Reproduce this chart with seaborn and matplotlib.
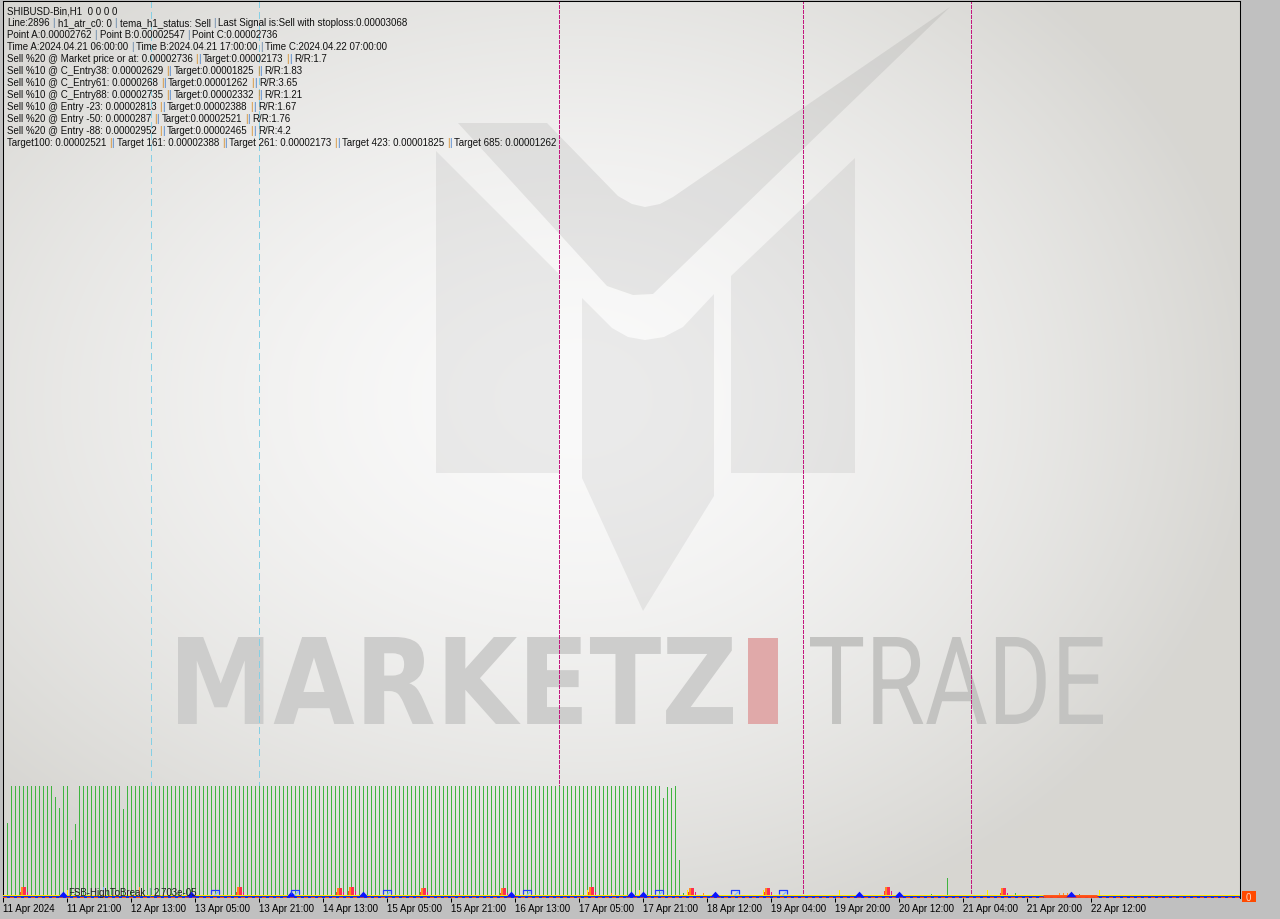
import re

import matplotlib

matplotlib.use("Agg")
import matplotlib.pyplot as plt
import numpy as np
import seaborn as sns
from matplotlib.font_manager import FontProperties
from matplotlib.patches import PathPatch, Polygon, Rectangle
from matplotlib.path import Path
from matplotlib.textpath import TextPath
from matplotlib.transforms import Affine2D

# x is the hourly bar number, bar 0 = 11 Apr 2024 05:00
tick_bars = [0, 16, 32, 48, 64, 80, 96, 112, 128, 144, 160, 176, 192, 208, 224, 240, 256, 272]
tick_labels = [
    "11 Apr 2024", "11 Apr 21:00", "12 Apr 13:00", "13 Apr 05:00", "13 Apr 21:00",
    "14 Apr 13:00", "15 Apr 05:00", "15 Apr 21:00", "16 Apr 13:00", "17 Apr 05:00",
    "17 Apr 21:00", "18 Apr 12:00", "19 Apr 04:00", "19 Apr 20:00", "20 Apr 12:00",
    "21 Apr 04:00", "21 Apr 20:00", "22 Apr 12:00",
]

# green histogram (height in screen pixels above the zero line)
green_bars = list(range(171)) + [232, 236, 253, 269]
green_values = [
    67, 73, 110, 110, 110, 110, 110, 110, 110, 110,
    110, 110, 110, 99, 88, 110, 110, 56, 72, 110,
    110, 110, 110, 110, 110, 110, 110, 110, 110, 110,
    87, 110, 110, 110, 110, 110, 110, 110, 110, 110,
    110, 110, 110, 110, 110, 110, 110, 110, 110, 110,
    110, 110, 110, 110, 110, 110, 110, 110, 110, 110,
    110, 110, 110, 110, 110, 110, 110, 110, 110, 110,
    110, 110, 110, 110, 110, 110, 110, 110, 110, 110,
    110, 110, 110, 110, 110, 110, 110, 110, 110, 110,
    110, 110, 110, 110, 110, 110, 110, 110, 110, 110,
    110, 110, 110, 110, 110, 110, 110, 110, 110, 110,
    110, 110, 110, 110, 110, 110, 110, 110, 110, 110,
    110, 110, 110, 110, 110, 110, 110, 110, 110, 110,
    110, 110, 110, 110, 110, 110, 110, 110, 110, 110,
    110, 110, 110, 110, 110, 110, 110, 110, 110, 110,
    110, 110, 110, 110, 110, 110, 110, 110, 110, 110,
    110, 110, 110, 110, 110, 98, 109, 108, 110, 36,
    3,
    2, 18, 3, 2,
]

# red / orange signal clusters
cluster_bars = [5, 59, 84, 87, 105, 125, 147, 172, 191, 221, 250]
cluster_peak = [8, 8, 7, 8, 7, 7, 8, 7, 7, 8, 7]
cluster_side = [3, 3, 3, 4, 3, 2, 3, 3, 3, 4, 2]

minor_bars = [16, 25, 34, 114, 146, 152, 159, 171, 175, 190, 209, 246, 274, 264, 265, 266]
minor_values = [5, 8, 8, 2, 5, 2, 5, 5, 2, 5, 5, 5, 5, 2, 2, 2]
minor_kind = ["yellow", "cyan", "orange", "red", "yellow", "orange", "yellow", "yellow",
              "orange", "yellow", "yellow", "yellow", "yellow", "orange", "orange", "orange"]

triangle_bars = [15, 47, 72, 90, 127, 157, 160, 178, 214, 224, 267]
arrow_bars = [53, 73, 96, 131, 164, 183, 195]
band_start, band_end = 260, 273.5

magenta_bars = [139, 200, 242]
cyan_bars = [37, 64]

info_lines = [
    "SHIBUSD-Bin,H1  0 0 0 0",
    "Line:2896 | h1_atr_c0: 0 | tema_h1_status: Sell | Last Signal is:Sell with stoploss:0.00003068",
    "Point A:0.00002762 | Point B:0.00002547 | Point C:0.00002736",
    "Time A:2024.04.21 06:00:00 | Time B:2024.04.21 17:00:00 | Time C:2024.04.22 07:00:00",
    "Sell %20 @ Market price or at: 0.00002736 || Target:0.00002173 || R/R:1.7",
    "Sell %10 @ C_Entry38: 0.00002629 || Target:0.00001825 || R/R:1.83",
    "Sell %10 @ C_Entry61: 0.0000268 || Target:0.00001262 || R/R:3.65",
    "Sell %10 @ C_Entry88: 0.00002735 || Target:0.00002332 || R/R:1.21",
    "Sell %10 @ Entry -23: 0.00002813 || Target:0.00002388 || R/R:1.67",
    "Sell %20 @ Entry -50: 0.0000287 || Target:0.00002521 || R/R:1.76",
    "Sell %20 @ Entry -88: 0.00002952 || Target:0.00002465 || R/R:4.2",
    "Target100: 0.00002521 || Target 161: 0.00002388 || Target 261: 0.00002173 || "
    "Target 423: 0.00001825 || Target 685: 0.00001262",
]
indicator_label = "FSB-HighToBreak | 2.703e-05"

sns.set_style("white")
plt.rcParams["font.family"] = ["Liberation Sans", "DejaVu Sans"]
FONT = FontProperties(family=["Liberation Sans", "DejaVu Sans"], size=7.0)

W, H = 1280, 920
fig = plt.figure(figsize=(W / 100, H / 100), dpi=100, facecolor="#c0c0c0")
PX = Affine2D().scale(1, -1).translate(0, H)  # screen pixels, y down


def px_rect(left, top, right, bottom):
    return [left / W, (H - bottom) / H, (right - left) / W, (bottom - top) / H]


frame = px_rect(2.7, 2.3, 1240.3, 899)

# background with watermark, in screen pixel coordinates
bg = fig.add_axes(frame, zorder=0)
bg.set_axis_off()
xs = np.arange(3, 1241) + 0.5
ys = np.arange(2, 899) + 0.5
gx, gy = np.meshgrid(xs, ys)
rx = np.where(gx < 580, 800.0, 680.0)
r = np.sqrt(((gx - 580) / rx) ** 2 + ((gy - 400) / 560.0) ** 2)
t = np.clip(r, 0, 1) ** 1.6
centre = np.array([250, 250, 250]) / 255
edge = np.array([215, 214, 210]) / 255
img = centre + (edge - centre) * t[..., None]
bg.imshow(img, extent=(2.7, 1240.3, 899, 2.3), aspect="auto", interpolation="bilinear")

logo = [
    ([(436, 152), (559, 275), (559, 474), (436, 474)], 0.06),
    ([(731, 277), (855, 159), (855, 474), (731, 474)], 0.06),
    ([(582, 299), (612, 329), (628, 338), (645, 341), (664, 338), (683, 328), (714, 295),
      (714, 497), (643, 612), (582, 479)], 0.06),
    ([(458, 124), (547, 124), (618, 197), (632, 205), (645, 208), (660, 205), (673, 198),
      (950, 8), (653, 295), (633, 296), (607, 287)], 0.07),
]
for verts, alpha in logo:
    bg.add_patch(Polygon(verts, closed=True, fc="black", ec="none", alpha=alpha))


def stretched_word(word, fp, box, color):
    left, top, right, bottom = box
    tp = TextPath((0, 0), word, size=100, prop=fp)
    ext = tp.get_extents()
    v = tp.vertices.copy()
    v[:, 0] = left + (v[:, 0] - ext.x0) * (right - left) / ext.width
    v[:, 1] = bottom - (v[:, 1] - ext.y0) * (bottom - top) / ext.height
    bg.add_patch(PathPatch(Path(v, tp.codes), fc=color, ec="none"))


stretched_word("MARKETZ", FontProperties(family="DejaVu Sans", weight="bold"),
               (178, 638, 733, 725), "#cdcdcc")
stretched_word("TRADE", FontProperties(family="Roboto", weight="normal"),
               (810, 638, 1103, 725), "#c3c3c1")
bg.add_patch(Rectangle((748, 639), 30, 86, fc="#e0a9a9", ec="none"))
bg.set_xlim(2.7, 1240.3)
bg.set_ylim(899, 2.3)

# chart
ax = fig.add_axes(frame, zorder=1)
ax.patch.set_alpha(0)

for b in cyan_bars:
    ax.axvline(b, color="#86cfe4", lw=0.75, ls=(0, (6, 4)), zorder=1, antialiased=False)
for b in magenta_bars:
    ax.axvline(b, color="#c2187e", lw=0.75, ls=(0, (3.8, 1.9)), zorder=1, antialiased=False)

ax.vlines(green_bars, 0, green_values, colors="#3fb43f", lw=0.5, zorder=2,
          antialiaseds=False)

cl = np.array(cluster_bars, dtype=float)
peak = np.array(cluster_peak)
side = np.array(cluster_side)
ax.vlines(cl - 0.9, 1, 1 + side, colors="#ff3a3a", lw=0.5, zorder=3, antialiaseds=False)
ax.vlines(cl - 0.25, 1, 1 + peak, colors="#ff8a1e", lw=0.9, zorder=3, antialiaseds=False)
ax.vlines(cl + 0.25, 1, 1 + peak, colors="#ff2d50", lw=0.9, zorder=3, antialiaseds=False)
ax.vlines(cl + 0.85, 1, 1 + side, colors="#d81b8a", lw=0.5, zorder=3, antialiaseds=False)

minor_colors = {"yellow": "#ffee00", "cyan": "#5ab4e8", "orange": "#ff9020", "red": "#ff4040"}
ax.vlines(minor_bars, 1, 1 + np.array(minor_values),
          colors=[minor_colors[k] for k in minor_kind], lw=0.7, zorder=3,
          antialiaseds=False)

# zero line: yellow over red/blue dashes
ax.axhline(0, color="#ffe800", lw=0.75, zorder=4, antialiased=False)
ax.axhline(-1, color="#1030e0", lw=0.75, zorder=4, antialiased=False)
ax.axhline(-1, color="#ff4a10", lw=0.75, ls=(0, (3, 3)), zorder=4, antialiased=False)
ax.hlines(0, band_start, band_end, colors="#ff4a1a", lw=2.0, zorder=4)

tri = Path([(-1, -0.55), (1, -0.55), (0, 0.55), (-1, -0.55)],
           [Path.MOVETO, Path.LINETO, Path.LINETO, Path.CLOSEPOLY])
sns.scatterplot(x=triangle_bars, y=[2.5] * len(triangle_bars), marker=tri, s=55,
                color="#0a14ff", linewidth=0, legend=False, ax=ax, zorder=5)

bracket = Path([(-1, -0.5), (-1, 0.5), (1, 0.5), (1, -0.5)])
diag = Path([(-1, -1), (1, 1)])
ax.plot(arrow_bars, [4.0] * len(arrow_bars), ls="none", marker=bracket, ms=5.2,
        mfc="none", mec="#1f3dff", mew=0.9, zorder=5)
ax.plot(np.array(arrow_bars) + 0.1, [2.6] * len(arrow_bars), ls="none", marker=diag,
        ms=2.8, mfc="none", mec="#80b8ff", mew=0.9, zorder=5)

ax.set_xlim(-0.15, 309.25)
ax.set_ylim(-2, 894.7)
ax.set_yticks([])
ax.set_xticks(tick_bars, tick_labels)
for lab in ax.get_xticklabels():
    lab.set_horizontalalignment("left")
    lab.set_fontproperties(FONT)
ax.tick_params(axis="x", direction="out", length=2.9, width=0.72, color="black",
               pad=1.0, labelcolor="black", bottom=True)
for side_name in ["left", "top", "right"]:
    ax.spines[side_name].set_color("black")
    ax.spines[side_name].set_linewidth(0.75)
ax.spines["bottom"].set_visible(False)

# text overlays in screen pixels
renderer = fig.canvas.get_renderer()


def text_width(s):
    tt = fig.text(0, 0, s, fontproperties=FONT)
    w = tt.get_window_extent(renderer).width
    tt.remove()
    return w


def draw_line(x0, y0, line, color="#101010"):
    tokens = re.split(r"(\|)", line)
    pos = 0
    for k, tok in enumerate(tokens):
        start = pos
        pos += len(tok)
        chunk = tok.strip()
        if not chunk:
            continue
        end = start + len(tok.rstrip())
        x = x0 + text_width(line[:end]) - text_width(chunk)
        c = color
        if tok == "|":
            if k + 2 < len(tokens) and tokens[k + 1] == "" and tokens[k + 2] == "|":
                c = "#d4861c"
            elif k >= 2 and tokens[k - 1] == "" and tokens[k - 2] == "|":
                c = "#3b78c9"
            else:
                c = "#5b7fa6"
        fig.text(x, y0, chunk, fontproperties=FONT, color=c, transform=PX,
                 ha="left", va="baseline")


for k, line in enumerate(info_lines):
    draw_line(7, 14.5 + 12 * k, line)
draw_line(68, 896.5, indicator_label, color="#202020")

fig.add_artist(Rectangle((1242, 892), 13.5, 11, fc="#ff4a00", ec="none", transform=PX))
fig.text(1248.7, 901, "0", fontproperties=FONT, color="#ffd7c4", transform=PX,
         ha="center", va="baseline")

fig.savefig("out.png", dpi=100, facecolor=fig.get_facecolor())
plt.close(fig)
